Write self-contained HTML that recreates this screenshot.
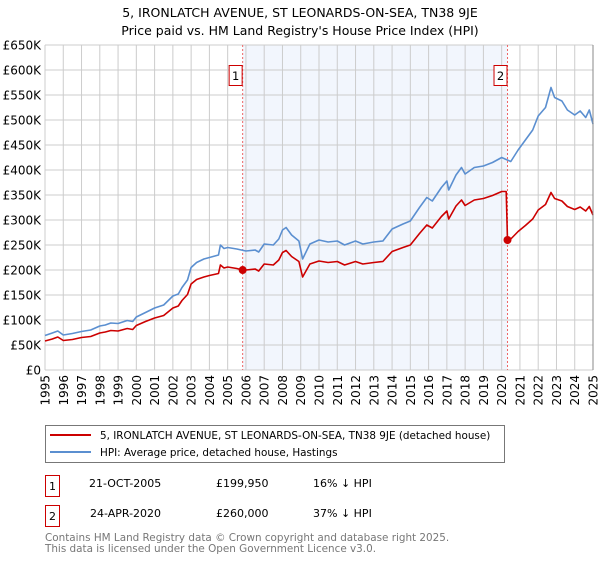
<!DOCTYPE html>
<html><head><meta charset="utf-8"><style>
body{margin:0;background:#fff;width:600px;height:560px;overflow:hidden;font-family:"Liberation Sans","DejaVu Sans",sans-serif;}
</style></head><body>
<svg id="chart" width="600" height="560" xmlns="http://www.w3.org/2000/svg" font-family="DejaVu Sans, Liberation Sans, sans-serif">
<text x="300" y="17" text-anchor="middle" font-size="12.5">5, IRONLATCH AVENUE, ST LEONARDS-ON-SEA, TN38 9JE</text>
<text x="300" y="35" text-anchor="middle" font-size="12.5">Price paid vs. HM Land Registry's House Price Index (HPI)</text>
<g id="plot"></g>
<g>
<rect x="45.5" y="425.5" width="459" height="37" fill="#fff" stroke="#777"/>
<line x1="50" y1="435" x2="91" y2="435" stroke="#cc0000" stroke-width="2"/>
<text x="100" y="439" font-size="10.4">5, IRONLATCH AVENUE, ST LEONARDS-ON-SEA, TN38 9JE (detached house)</text>
<line x1="50" y1="452" x2="91" y2="452" stroke="#5b8fd0" stroke-width="2"/>
<text x="100" y="456" font-size="10.4">HPI: Average price, detached house, Hastings</text>
</g>
<g font-size="11">
<rect x="45.5" y="475.5" width="14" height="21" fill="#fff" stroke="#cc0000"/>
<text x="52.5" y="490" text-anchor="middle">1</text>
<text x="89" y="487">21-OCT-2005</text><text x="216" y="487">£199,950</text><text x="313" y="487">16% ↓ HPI</text>
<rect x="45.5" y="505.5" width="14" height="21" fill="#fff" stroke="#cc0000"/>
<text x="52.5" y="520" text-anchor="middle">2</text>
<text x="90" y="517">24-APR-2020</text><text x="216" y="517">£260,000</text><text x="313" y="517">37% ↓ HPI</text>
</g>
<text x="45" y="541" font-size="10.4" fill="#777">Contains HM Land Registry data © Crown copyright and database right 2025.</text>
<text x="45" y="552" font-size="10.4" fill="#777">This data is licensed under the Open Government Licence v3.0.</text>
</svg>
<script>
const hpiYears=[1995.0,1995.4,1995.7,1996.0,1996.5,1997.0,1997.5,1998.0,1998.3,1998.6,1999.0,1999.5,1999.8,2000.0,2000.5,2001.0,2001.5,2002.0,2002.3,2002.5,2002.8,2003.0,2003.3,2003.7,2004.0,2004.5,2004.6,2004.8,2005.0,2005.5,2006.0,2006.5,2006.7,2007.0,2007.5,2007.8,2008.0,2008.2,2008.5,2008.9,2009.1,2009.5,2010.0,2010.5,2011.0,2011.4,2012.0,2012.4,2013.0,2013.5,2014.0,2014.6,2015.0,2015.5,2015.9,2016.2,2016.7,2017.0,2017.1,2017.5,2017.8,2018.0,2018.5,2019.0,2019.5,2020.0,2020.5,2020.9,2021.3,2021.7,2022.0,2022.4,2022.7,2022.9,2023.3,2023.6,2024.0,2024.3,2024.6,2024.8,2025.0];
const hpiValues=[69,74,78,70,73,77,80,88,90,94,93,99,97,106,115,124,130,148,152,165,180,205,215,222,225,230,250,243,245,242,238,240,236,252,250,262,280,285,270,258,222,252,260,256,258,250,258,252,256,258,282,292,298,325,345,338,365,378,360,390,405,392,405,408,415,425,417,440,460,480,508,525,565,545,538,520,510,518,505,520,492];
const priceYears=[1995.0,1995.4,1995.7,1996.0,1996.5,1997.0,1997.5,1998.0,1998.3,1998.6,1999.0,1999.5,1999.8,2000.0,2000.5,2001.0,2001.5,2002.0,2002.3,2002.5,2002.8,2003.0,2003.3,2003.7,2004.0,2004.5,2004.6,2004.8,2005.0,2005.5,2005.82,2006.0,2006.5,2006.7,2007.0,2007.5,2007.8,2008.0,2008.2,2008.5,2008.9,2009.1,2009.5,2010.0,2010.5,2011.0,2011.4,2012.0,2012.4,2013.0,2013.5,2014.0,2014.6,2015.0,2015.5,2015.9,2016.2,2016.7,2017.0,2017.1,2017.5,2017.8,2018.0,2018.5,2019.0,2019.5,2020.0,2020.25,2020.32,2020.5,2020.9,2021.3,2021.7,2022.0,2022.4,2022.7,2022.9,2023.3,2023.6,2024.0,2024.3,2024.6,2024.8,2025.0];
const priceValues=[58,62,66,59,61,65,67,74,76,79,78,83,81,89,97,104,109,124,128,139,151,172,181,186,189,193,210,204,206,203,199.95,200,202,198,212,210,220,235,239,227,217,186,212,218,215,217,210,217,212,215,217,237,245,250,273,290,284,307,318,302,328,340,329,340,343,349,357,357,260,262,277,289,302,320,331,355,343,338,327,321,326,318,327,310];
const saleYears=[2005.82,2020.32];
const saleValues=[199.95,260];
const saleLabels=["1","2"];
const yTicks=[0,50,100,150,200,250,300,350,400,450,500,550,600,650];
const xTicks=[1995,1996,1997,1998,1999,2000,2001,2002,2003,2004,2005,2006,2007,2008,2009,2010,2011,2012,2013,2014,2015,2016,2017,2018,2019,2020,2021,2022,2023,2024,2025];

const NS="http://www.w3.org/2000/svg";
const X0=45,X1=593,Y0=370,Y1=45;
const xs=y=>X0+(y-1995)/30*(X1-X0);
const ys=v=>Y0-v/650*(Y0-Y1);
const plot=document.getElementById('plot');
function mk(tag,attrs,parent){const e=document.createElementNS(NS,tag);for(const k in attrs)e.setAttribute(k,attrs[k]);(parent||plot).appendChild(e);return e;}
let sh=mk('rect',{x:xs(saleYears[0]),y:Y1,width:xs(saleYears[1])-xs(saleYears[0]),height:Y0-Y1,fill:'#f2f6fd'});


yTicks.forEach(v=>{
 let l=mk('line',{x1:X0,x2:X1,y1:ys(v),y2:ys(v),stroke:'#cccccc','stroke-width':1});
 
 
 let t=mk('text',{x:X0-4,y:ys(v)+4.5,'text-anchor':'end','font-size':12});
 
 
 t.textContent=v===0?'£0':'£'+v+'K';
});
xTicks.forEach(y=>{
 let l=mk('line',{x1:xs(y),x2:xs(y),y1:Y1,y2:Y0,stroke:'#cccccc','stroke-width':1});
 
 
 let t=mk('text',{x:0,y:0,'text-anchor':'end','font-size':12,transform:`translate(${xs(y)+4.5},375) rotate(-90)`});
 
 
 t.textContent=y;
});
saleYears.forEach((y,i)=>{
 let l=mk('line',{x1:xs(y),x2:xs(y),y1:Y1,y2:Y0,stroke:'#ee6666','stroke-width':1,'stroke-dasharray':'2,2'});
 
 
});
function path(xa,va,col,name){
 const d=xa.map((y,i)=>(i?'L':'M')+xs(y).toFixed(1)+','+ys(va[i]).toFixed(1)).join('');
 let p=mk('path',{d:d,fill:'none',stroke:col,'stroke-width':1.6,'stroke-linejoin':'round'});
 
 
}
path(hpiYears,hpiValues,'#5b8fd0','hpi-line');
path(priceYears,priceValues,'#cc0000','price-paid-line');
saleYears.forEach((y,i)=>{
 let c=mk('circle',{cx:xs(y),cy:ys(saleValues[i]),r:4,fill:'#cc0000'});
 
 
 let g=mk('g',{});
 
 
 mk('rect',{x:xs(y)-13.5,y:65.5,width:13,height:20,fill:'#fff',stroke:'#cc0000'},g);
 let t=mk('text',{x:xs(y)-7,y:80,'text-anchor':'middle','font-size':11.5},g);
 t.textContent=saleLabels[i];
});
mk('line',{x1:X1,x2:X1,y1:Y1,y2:Y0,stroke:'#888','stroke-width':1});
</script>
</body></html>
